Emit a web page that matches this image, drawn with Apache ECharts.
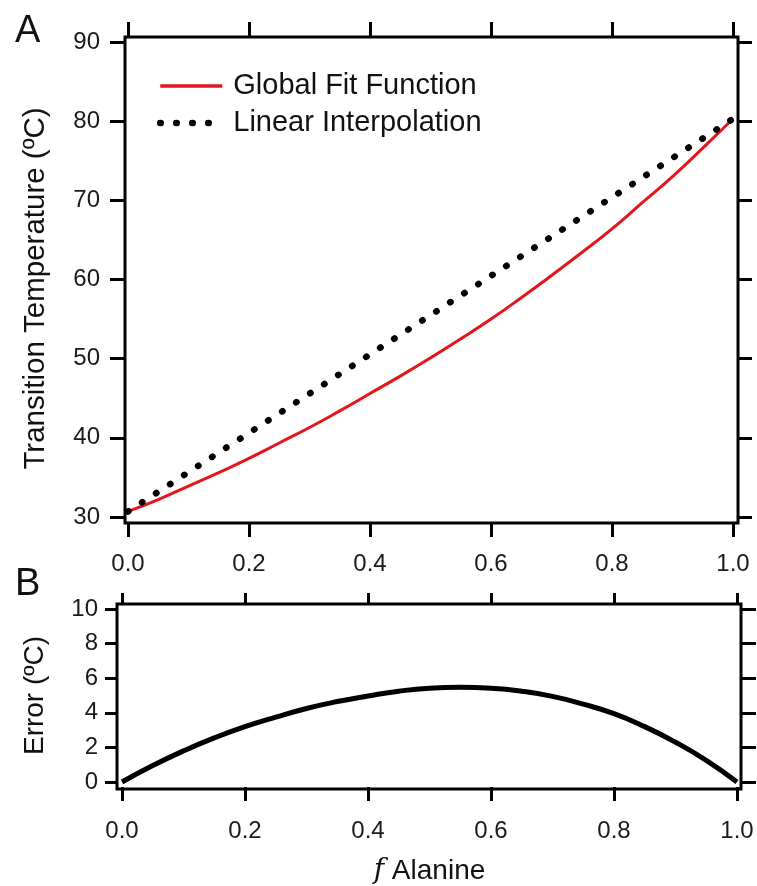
<!DOCTYPE html>
<html>
<head>
<meta charset="utf-8">
<script src="https://cdn.jsdelivr.net/npm/echarts@6/dist/echarts.min.js"></script>
<style>
html,body{margin:0;padding:0;background:#fff;}
#chart{width:757px;height:886px;}
</style>
</head>
<body>
<div id="chart"></div>
<script>
// ---- data ----
var fAlanine = [0, 0.05, 0.1, 0.15, 0.2, 0.25, 0.3, 0.35, 0.4, 0.45, 0.5, 0.55, 0.6, 0.65, 0.7, 0.75, 0.8, 0.85, 0.9, 0.95, 1.0];
var globalFit = [30.7, 32.2, 33.9, 35.6, 37.4, 39.35, 41.3, 43.4, 45.6, 47.8, 50.1, 52.5, 55.0, 57.7, 60.5, 63.4, 66.4, 69.7, 73.0, 76.6, 80.3];
var linearX = [0, 1];
var linearT = [30.7, 80.3];
var errorVals = [0, 0.95, 1.8, 2.55, 3.2, 3.75, 4.25, 4.65, 4.97, 5.25, 5.42, 5.47, 5.42, 5.25, 4.95, 4.5, 3.95, 3.2, 2.3, 1.25, 0];
var xTicksMin = 0, xTicksMax = 1, xTickStep = 0.2;
var tempMin = 30, tempMax = 90, tempStep = 10;
var errMin = 0, errMax = 10, errStep = 2;
var seriesNames = ['Global Fit Function', 'Linear Interpolation'];

function pairs(xs, ys) { return xs.map(function (x, i) { return [x, ys[i]]; }); }

var FONT = 'Liberation Sans, Arial, sans-serif';

function xAx(grid, pos, offset, tickLen, showLabel, margin, extra) {
  var a = {
    type: 'value', gridIndex: grid, position: pos, offset: offset,
    min: xTicksMin, max: xTicksMax, interval: xTickStep,
    axisLine: { show: false, onZero: false },
    axisTick: { show: true, inside: false, length: tickLen, lineStyle: { color: '#000', width: 3 } },
    splitLine: { show: false },
    axisLabel: { show: showLabel, margin: margin, color: '#1a1a1a', fontSize: 24, fontFamily: FONT,
      formatter: function (v) { return v.toFixed(1); } }
  };
  return Object.assign(a, extra || {});
}
function yAx(grid, pos, offset, tickLen, min, max, step, showLabel, margin, extra) {
  var a = {
    type: 'value', gridIndex: grid, position: pos, offset: offset,
    min: min, max: max, interval: step,
    axisLine: { show: false, onZero: false },
    axisTick: { show: true, inside: false, length: tickLen, lineStyle: { color: '#000', width: 3 } },
    splitLine: { show: false },
    axisLabel: { show: showLabel, margin: margin, color: '#1a1a1a', fontSize: 24, fontFamily: FONT }
  };
  return Object.assign(a, extra || {});
}

var chart = echarts.init(document.getElementById('chart'), null, { renderer: 'canvas' });
var option = {
  backgroundColor: '#fff',
  animation: false,
  textStyle: { fontFamily: FONT },
  title: [
    { text: 'A', left: 10, top: 8, textStyle: { fontSize: 38, fontWeight: 'normal', color: '#111', fontFamily: FONT } },
    { text: 'B', left: 10, top: 561, textStyle: { fontSize: 38, fontWeight: 'normal', color: '#111', fontFamily: FONT } }
  ],
  grid: [
    { left: 128, right: 24, top: 42, height: 475 },
    { left: 122, right: 20, top: 609, height: 175 }
  ],
  graphic: [
    { type: 'rect', shape: { x: 125, y: 37, width: 613, height: 486 }, style: { fill: null, stroke: '#000', lineWidth: 3 }, z: 10 },
    { type: 'rect', shape: { x: 117, y: 604, width: 624, height: 185 }, style: { fill: null, stroke: '#000', lineWidth: 3 }, z: 10 }
  ],
  legend: {
    orient: 'vertical', left: 152, top: 66, itemWidth: 62, itemHeight: 14, itemGap: 7,
    data: [
      { name: seriesNames[0], lineStyle: { color: '#e3161c', width: 3.5 } },
      { name: seriesNames[1], lineStyle: { color: '#000', width: 6.5, type: [0.5, 15.5], cap: 'round' } }
    ],
    itemStyle: { opacity: 0 },
    textStyle: { fontSize: 29, color: '#111', fontFamily: FONT, lineHeight: 30, padding: [0, 0, 0, 6] }
  },
  xAxis: [
    xAx(0, 'bottom', 6, 14, true, 29),
    xAx(0, 'top', 5, 15, false, 8),
    xAx(1, 'bottom', 5, 14, true, 32, {
      name: '{i|f} Alanine', nameLocation: 'middle', nameGap: 70,
      nameTextStyle: { fontSize: 28, color: '#111', fontFamily: FONT,
        rich: { i: { fontStyle: 'italic', fontSize: 28, fontFamily: 'DejaVu Serif, serif', color: '#111' } } }
    }),
    xAx(1, 'top', 5, 11, false, 8)
  ],
  yAxis: [
    yAx(0, 'left', 3, 15, tempMin, tempMax, tempStep, true, 25, {
      name: 'Transition Temperature (ºC)', nameLocation: 'middle', nameGap: 74, nameRotate: 90,
      nameTextStyle: { fontSize: 29.5, color: '#111', fontFamily: FONT, padding: [0, 18, 0, 0] }
    }),
    yAx(0, 'right', 5, 14, tempMin, tempMax, tempStep, false, 8),
    yAx(1, 'left', 5, 12, errMin, errMax, errStep, true, 19, {
      name: 'Error (ºC)', nameLocation: 'middle', nameGap: 68, nameRotate: 90,
      nameTextStyle: { fontSize: 28, color: '#111', fontFamily: FONT }
    }),
    yAx(1, 'right', 4, 15, errMin, errMax, errStep, false, 8)
  ],
  series: [
    {
      name: seriesNames[0], type: 'line', xAxisIndex: 0, yAxisIndex: 0,
      data: pairs(fAlanine, globalFit), smooth: true, showSymbol: false, symbol: 'none',
      lineStyle: { color: '#e3161c', width: 3 }, itemStyle: { color: '#e3161c' }, z: 3
    },
    {
      name: seriesNames[1], type: 'line', xAxisIndex: 0, yAxisIndex: 0,
      data: pairs(linearX, linearT), showSymbol: false, symbol: 'none',
      lineStyle: { color: '#000', width: 6.5, type: [0.5, 16.2], cap: 'round' }, itemStyle: { color: '#000' }, z: 4
    },
    {
      name: 'Error', type: 'line', xAxisIndex: 2, yAxisIndex: 2,
      data: pairs(fAlanine, errorVals), smooth: true, showSymbol: false, symbol: 'none',
      lineStyle: { color: '#000', width: 5 }, z: 3
    }
  ]
};
chart.setOption(option);
</script>
</body>
</html>
